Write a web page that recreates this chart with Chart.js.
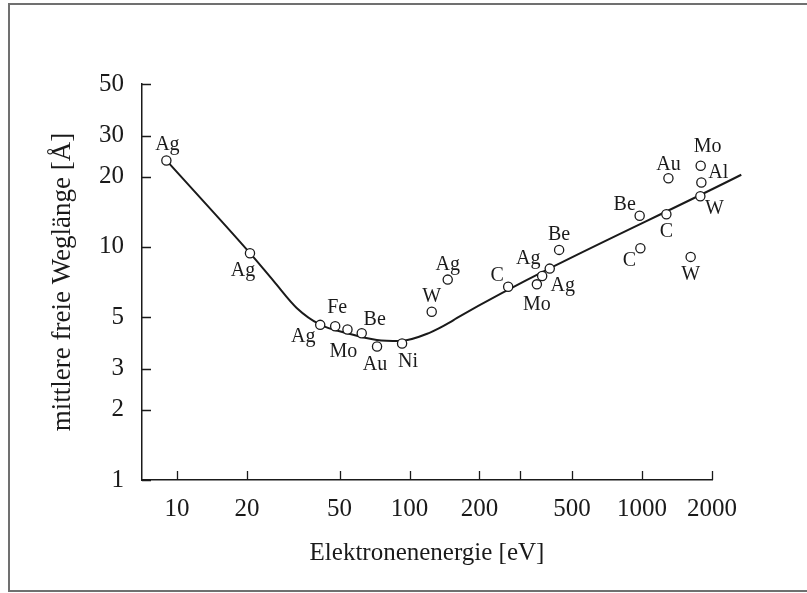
<!DOCTYPE html>
<html>
<head>
<meta charset="utf-8">
<script src="https://cdn.jsdelivr.net/npm/chart.js@4/dist/chart.umd.min.js"></script>
<style>
  html, body { margin: 0; padding: 0; background: #fff; overflow: hidden; }
  .frame { position: absolute; left: 8px; top: 3px; width: 820px; height: 589px; border: 2px solid #707070; box-sizing: border-box; }
  canvas { position: absolute; left: 0; top: 0; }
</style>
</head>
<body>
<div class="frame"></div>
<canvas id="chart" width="807" height="593"></canvas>
<script>
// measured points: energy [eV], mean free path [Å], element
const energy = [9, 20.6, 41.3, 47.9, 54.1, 62.3, 72.5, 92.9, 124.6, 146, 265.7, 353, 372, 401, 440, 977, 984, 1299, 1273, 1788, 1800, 1782, 1619]
const pathLength = [23.5, 9.4, 4.63, 4.57, 4.42, 4.26, 3.74, 3.85, 5.27, 7.24, 6.75, 6.91, 7.5, 8.07, 9.71, 13.6, 9.87, 19.7, 13.8, 22.3, 18.9, 16.5, 9.06]
const element = ['Ag', 'Ag', 'Ag', 'Fe', 'Mo', 'Be', 'Au', 'Ni', 'W', 'Ag', 'C', 'Mo', 'Ag', 'Ag', 'Be', 'Be', 'C', 'Au', 'C', 'Mo', 'Al', 'W', 'W']
// where each element label sits relative to its circle (px)
const labelNudge = [[1, -16], [-7, 18], [-17, 12], [2, -18], [-4, 22], [13, -14], [-2, 18], [6, 18], [0, -15], [0, -15],
  [-11, -11], [0, 20], [-14, -17], [13, 17], [0, -15], [-15, -11], [-11, 13], [0, -14], [0, 17], [7, -19], [17, -10], [14, 13], [0, 18]]

// universal curve
const curveEnergy = [9, 20.6, 26, 32.8, 41.3, 53.7, 72.3, 91, 122.5, 149, 159.5, 2673]
const curveLength = [23.5, 9.4, 7.15, 5.46, 4.64, 4.27, 3.99, 3.95, 4.29, 4.74, 4.95, 20.4]

const xTicks = [10, 20, 50, 100, 200, 300, 500, 1000, 2000]
const xTickLabels = ['10', '20', '50', '100', '200', '', '500', '1000', '2000']
const yTicks = [1, 2, 3, 5, 10, 20, 30, 50]

const INK = '#1a1a1a'
const SERIF = '"Liberation Serif", "Times New Roman", serif'

const innerTicks = {
  id: 'innerTicks',
  afterDatasetsDraw(chart) {
    const { ctx, chartArea, scales: { x, y } } = chart
    ctx.save()
    ctx.strokeStyle = INK
    ctx.lineWidth = 1.3
    ctx.beginPath()
    xTicks.forEach(v => {
      const px = Math.round(x.getPixelForValue(v)) + 0.5
      ctx.moveTo(px, chartArea.bottom)
      ctx.lineTo(px, chartArea.bottom - 9)
    })
    yTicks.forEach(v => {
      const py = Math.round(y.getPixelForValue(v)) + 0.5
      ctx.moveTo(chartArea.left, py)
      ctx.lineTo(chartArea.left + 9, py)
    })
    ctx.stroke()

    // element labels
    const meta = chart.getDatasetMeta(1)
    ctx.fillStyle = INK
    ctx.font = '20px ' + SERIF
    ctx.textAlign = 'center'
    ctx.textBaseline = 'middle'
    meta.data.forEach((pt, i) => {
      const [dx, dy] = labelNudge[i]
      ctx.fillText(element[i], pt.x + dx, pt.y + dy)
    })
    ctx.restore()
  }
}

new Chart(document.getElementById('chart'), {
  type: 'scatter',
  data: {
    datasets: [
      {
        type: 'line',
        data: curveEnergy.map((e, i) => ({ x: e, y: curveLength[i] })),
        borderColor: INK,
        borderWidth: 2,
        pointRadius: 0,
        cubicInterpolationMode: 'monotone',
        fill: false,
        clip: false,
        order: 2,
      },
      {
        data: energy.map((e, i) => ({ x: e, y: pathLength[i] })),
        pointRadius: 4.6,
        pointBackgroundColor: '#fff',
        pointBorderColor: INK,
        pointBorderWidth: 1.3,
        clip: false,
        order: 1,
      },
    ],
  },
  options: {
    responsive: false,
    animation: false,
    devicePixelRatio: 1,
    layout: { padding: { left: 0, top: 84, right: 95, bottom: 0 } },
    plugins: { legend: { display: false }, tooltip: { enabled: false } },
    scales: {
      x: {
        type: 'logarithmic',
        min: 7.07,
        max: 2000,
        afterFit: s => { s.height = 113 },
        afterBuildTicks: s => { s.ticks = xTicks.map(v => ({ value: v })) },
        grid: { display: false },
        border: { display: true, color: INK, width: 1.5 },
        ticks: {
          padding: 6,
          color: INK,
          font: { family: SERIF, size: 25 },
          maxRotation: 0,
          autoSkip: false,
          callback: (v, i) => xTickLabels[i],
        },
        title: {
          display: true,
          text: 'Elektronenenergie [eV]',
          color: INK,
          font: { family: SERIF, size: 25 },
          padding: { top: 0, bottom: 25 },
        },
      },
      y: {
        type: 'logarithmic',
        min: 1,
        max: 50,
        afterFit: s => { s.width = 142 },
        afterBuildTicks: s => { s.ticks = yTicks.map(v => ({ value: v })) },
        grid: { display: false },
        border: { display: true, color: INK, width: 1.5 },
        ticks: {
          padding: 10,
          color: INK,
          font: { family: SERIF, size: 25 },
          autoSkip: false,
          callback: v => String(v),
        },
        title: {
          display: true,
          text: 'mittlere freie Weglänge [Å]',
          color: INK,
          font: { family: SERIF, size: 27 },
          padding: { top: 47, bottom: 0 },
        },
      },
    },
  },
  plugins: [innerTicks],
})
</script>
</body>
</html>
